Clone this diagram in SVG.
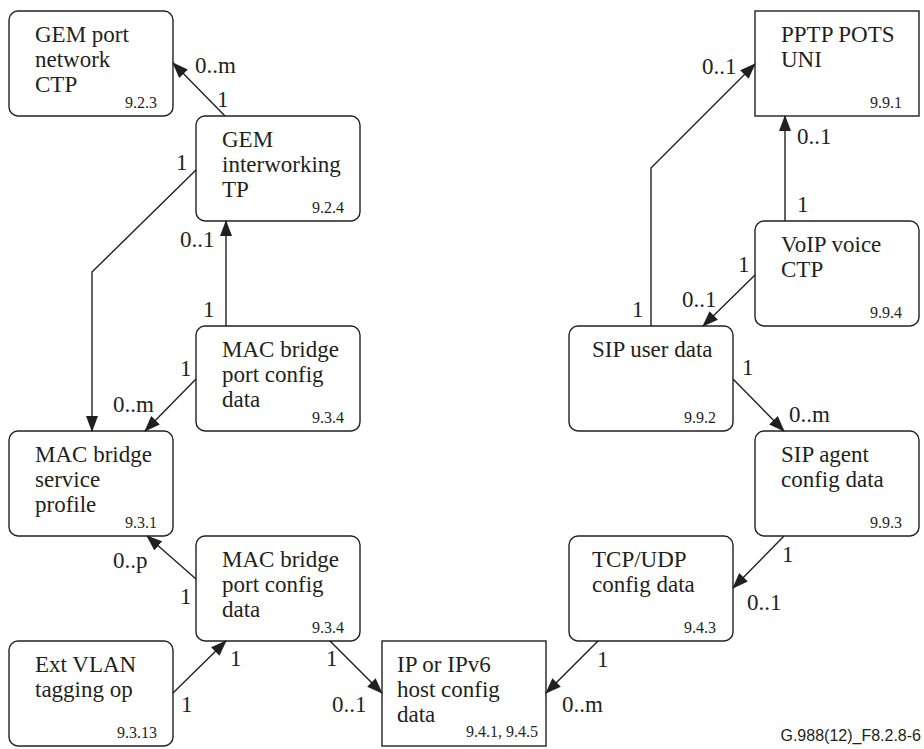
<svg xmlns="http://www.w3.org/2000/svg" width="924" height="749" viewBox="0 0 924 749">
<defs>
<style>
.box{fill:#fff;stroke:#231f20;stroke-width:1.4}
.t{font-family:'Liberation Serif','Times New Roman','DejaVu Serif','Noto Serif',serif;font-size:23px;fill:#231f20}
.n{font-family:'Liberation Serif','Times New Roman','DejaVu Serif','Noto Serif',serif;font-size:16px;fill:#231f20;text-anchor:end}
.m{font-family:'Liberation Serif','Times New Roman','DejaVu Serif','Noto Serif',serif;font-size:23px;fill:#231f20}
.c{fill:none;stroke:#231f20;stroke-width:1.4;marker-end:url(#ah)}
.f{font-family:'Liberation Sans',Arial,sans-serif;font-size:16px;fill:#231f20;text-anchor:end}
</style>
<marker id="ah" markerUnits="userSpaceOnUse" markerWidth="16" markerHeight="12" refX="15" refY="6" orient="auto" viewBox="0 0 16 12">
<path d="M0,0 L16,6 L0,12 z" fill="#231f20"/>
</marker>
</defs>
<rect width="924" height="749" fill="#fff"/>

<g id="gem-port-network-ctp">
<rect class="box" x="9" y="11" width="164" height="105" rx="9"/>
<text class="t" x="35" y="42">GEM port</text>
<text class="t" x="35" y="67">network</text>
<text class="t" x="35" y="92">CTP</text>
<text class="n" x="157" y="108">9.2.3</text>
</g>
<g id="gem-interworking-tp">
<rect class="box" x="196" y="116" width="164" height="105" rx="9"/>
<text class="t" x="222" y="147">GEM</text>
<text class="t" x="222" y="172">interworking</text>
<text class="t" x="222" y="197">TP</text>
<text class="n" x="344" y="213">9.2.4</text>
</g>
<g id="pptp-pots-uni">
<rect class="box" x="755" y="11" width="164" height="105"/>
<text class="t" x="781" y="42">PPTP POTS</text>
<text class="t" x="781" y="67">UNI</text>
<text class="n" x="902" y="108">9.9.1</text>
</g>
<g id="voip-voice-ctp">
<rect class="box" x="755" y="221" width="164" height="105" rx="9"/>
<text class="t" x="781" y="252">VoIP voice</text>
<text class="t" x="781" y="277">CTP</text>
<text class="n" x="902" y="318">9.9.4</text>
</g>
<g id="sip-user-data">
<rect class="box" x="569" y="326" width="164" height="105" rx="9"/>
<text class="t" x="592" y="357">SIP user data</text>
<text class="n" x="716" y="423">9.9.2</text>
</g>
<g id="mac-bridge-port-config-data-1">
<rect class="box" x="196" y="326" width="164" height="105" rx="9"/>
<text class="t" x="222" y="357">MAC bridge</text>
<text class="t" x="222" y="382">port config</text>
<text class="t" x="222" y="407">data</text>
<text class="n" x="344" y="423">9.3.4</text>
</g>
<g id="mac-bridge-service-profile">
<rect class="box" x="9" y="431" width="164" height="105" rx="9"/>
<text class="t" x="35" y="462">MAC bridge</text>
<text class="t" x="35" y="487">service</text>
<text class="t" x="35" y="512">profile</text>
<text class="n" x="157" y="528">9.3.1</text>
</g>
<g id="sip-agent-config-data">
<rect class="box" x="755" y="431" width="164" height="105" rx="9"/>
<text class="t" x="781" y="462">SIP agent</text>
<text class="t" x="781" y="487">config data</text>
<text class="n" x="902" y="528">9.9.3</text>
</g>
<g id="tcp-udp-config-data">
<rect class="box" x="569" y="536" width="164" height="105" rx="9"/>
<text class="t" x="592" y="567">TCP/UDP</text>
<text class="t" x="592" y="592">config data</text>
<text class="n" x="716" y="633">9.4.3</text>
</g>
<g id="mac-bridge-port-config-data-2">
<rect class="box" x="196" y="536" width="164" height="105" rx="9"/>
<text class="t" x="222" y="567">MAC bridge</text>
<text class="t" x="222" y="592">port config</text>
<text class="t" x="222" y="617">data</text>
<text class="n" x="344" y="633">9.3.4</text>
</g>
<g id="ext-vlan-tagging-op">
<rect class="box" x="9" y="641" width="164" height="105" rx="9"/>
<text class="t" x="35" y="672">Ext VLAN</text>
<text class="t" x="35" y="697">tagging op</text>
<text class="n" x="157" y="738">9.3.13</text>
</g>
<g id="ip-host-config-data">
<rect class="box" x="382" y="641" width="164" height="105"/>
<text class="t" x="397" y="672">IP or IPv6</text>
<text class="t" x="397" y="697">host config</text>
<text class="t" x="397" y="722">data</text>
<text class="n" x="538" y="737">9.4.1, 9.4.5</text>
</g>

<g id="connectors">
<path class="c" d="M225,116 L173,63"/>
<path class="c" d="M196,170 L92,272 L92,431"/>
<path class="c" d="M226,326 L226,221"/>
<path class="c" d="M196,379 L145,431"/>
<path class="c" d="M196,579 L147,536"/>
<path class="c" d="M173,693 L226,641"/>
<path class="c" d="M330,641 L382,693"/>
<path class="c" d="M598,641 L546,693"/>
<path class="c" d="M784,536 L733,588"/>
<path class="c" d="M733,379 L784,431"/>
<path class="c" d="M755,275 L703,326"/>
<path class="c" d="M651,326 L651,168 L755,64"/>
<path class="c" d="M785,221 L785,116"/>
</g>

<g id="multiplicities">
<text class="m" x="195" y="73">0..m</text>
<text class="m" x="217" y="107">1</text>
<text class="m" x="176" y="170">1</text>
<text class="m" x="180" y="247">0..1</text>
<text class="m" x="203" y="317">1</text>
<text class="m" x="180" y="376">1</text>
<text class="m" x="113" y="412">0..m</text>
<text class="m" x="113" y="568">0..p</text>
<text class="m" x="180" y="604">1</text>
<text class="m" x="230" y="666">1</text>
<text class="m" x="181" y="712">1</text>
<text class="m" x="326" y="666">1</text>
<text class="m" x="332" y="712">0..1</text>
<text class="m" x="597" y="667">1</text>
<text class="m" x="562" y="712">0..m</text>
<text class="m" x="782" y="562">1</text>
<text class="m" x="747" y="610">0..1</text>
<text class="m" x="742" y="375">1</text>
<text class="m" x="789" y="422">0..m</text>
<text class="m" x="738" y="272">1</text>
<text class="m" x="682" y="307">0..1</text>
<text class="m" x="702" y="74">0..1</text>
<text class="m" x="632" y="317">1</text>
<text class="m" x="797" y="144">0..1</text>
<text class="m" x="797" y="212">1</text>
</g>
<text class="f" x="921" y="741">G.988(12)_F8.2.8-6</text>
</svg>
